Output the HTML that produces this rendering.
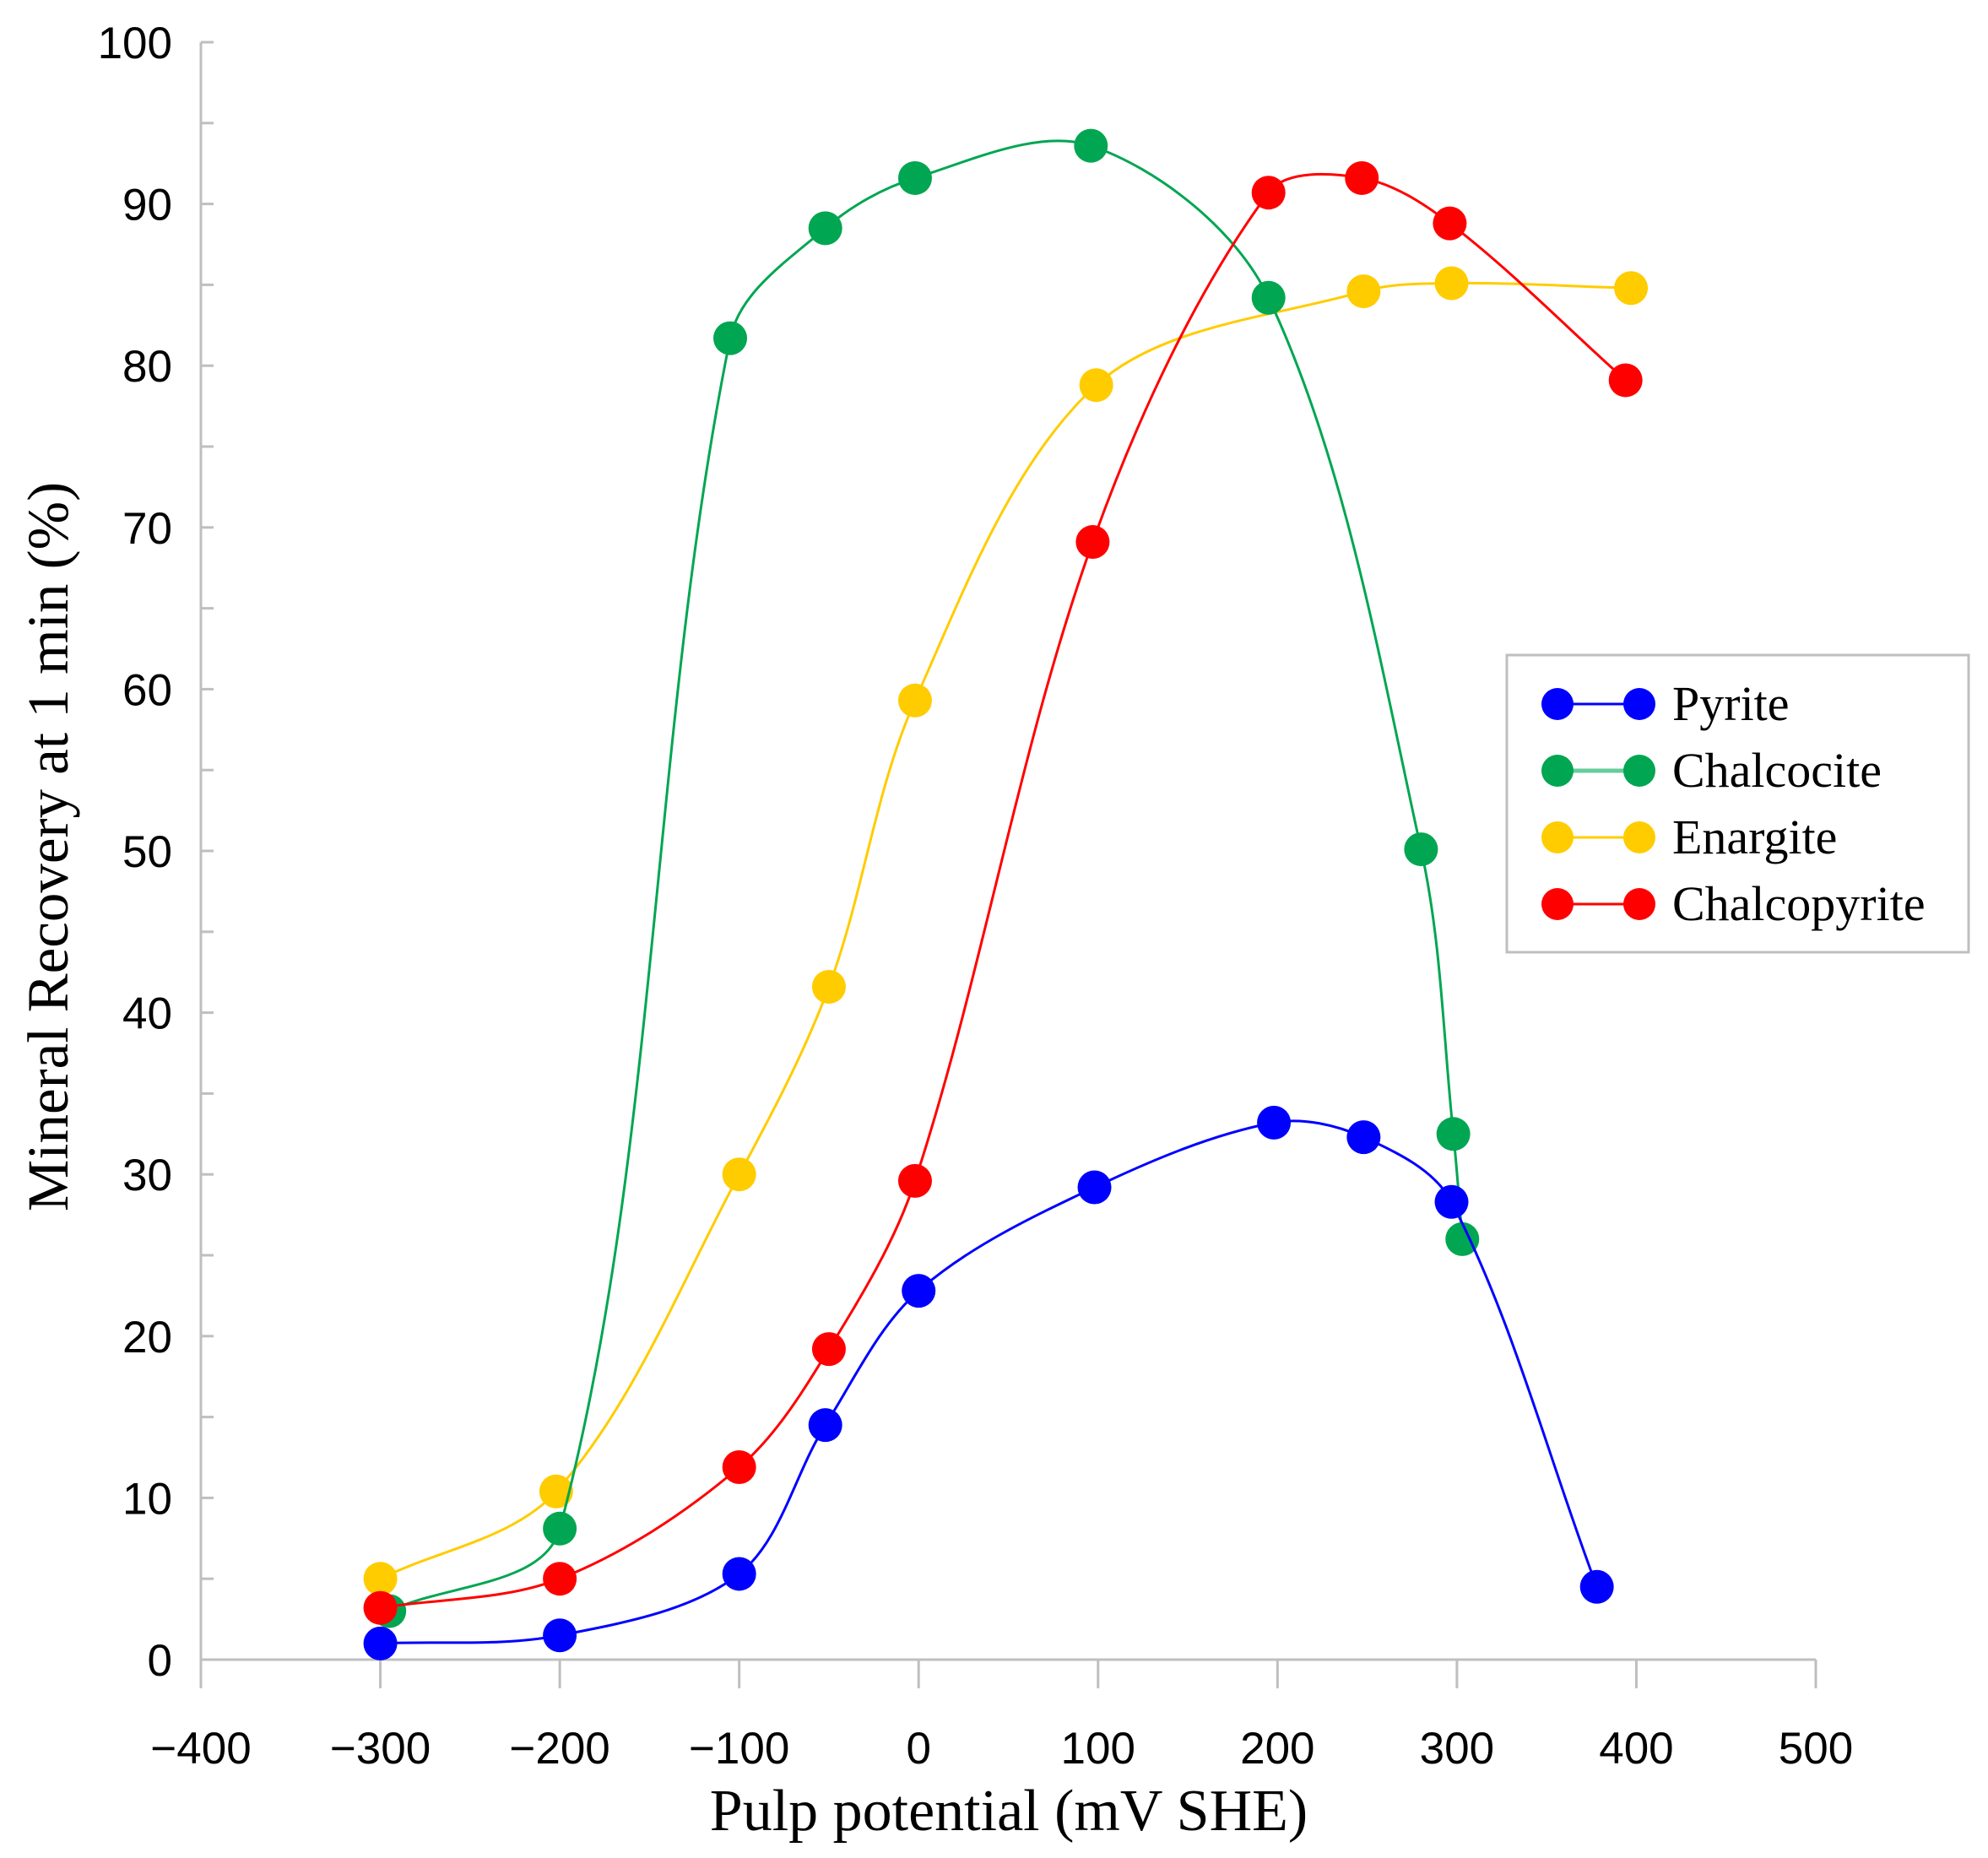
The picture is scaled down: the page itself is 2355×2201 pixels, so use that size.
<!DOCTYPE html>
<html><head><meta charset="utf-8"><style>
html,body{margin:0;padding:0;background:#fff;}
svg{display:block;}
</style></head><body>
<svg id="chart" width="2355" height="2201" viewBox="0 0 2355 2201" xmlns="http://www.w3.org/2000/svg">
<g id="axes"></g>
<g id="series"></g>
<text transform="translate(80,1003) rotate(-90)" text-anchor="middle" font-family="Liberation Serif, serif" font-size="69" fill="#000">Mineral Recovery at 1 min (%)</text>
<text x="1195" y="2168" text-anchor="middle" font-family="Liberation Serif, serif" font-size="70" fill="#000">Pulp potential (mV SHE)</text>
<g id="legend"></g>
</svg>
<script>
const xTicks = [-400,-300,-200,-100,0,100,200,300,400,500];
const yTicks = [0,10,20,30,40,50,60,70,80,90,100];
const seriesNames = ["Pyrite","Chalcocite","Enargite","Chalcopyrite"];
const seriesColors = ["#0000ff","#00a651","#ffcc00","#ff0000"];
const pyriteX = [-300,-200,-100,-52,0,98,198,248,297,378];
const pyriteY = [1,1.5,5.3,14.5,22.8,29.2,33.2,32.3,28.3,4.5];
const chalcociteX = [-295,-200,-105,-52,-2,96,195,280,298,303];
const chalcociteY = [3,8.1,81.7,88.5,91.6,93.6,84.2,50.1,32.5,26];
const enargiteX = [-300,-202,-100,-50,-2,99,248,297,397];
const enargiteY = [5,10.4,30,41.6,59.3,78.8,84.6,85.1,84.8];
const chalcopyriteX = [-300,-200,-100,-50,-2,97,195,247,296,394];
const chalcopyriteY = [3.2,5,11.9,19.2,29.6,69.1,90.7,91.6,88.8,79.1];

const NS="http://www.w3.org/2000/svg";
const X0=238, X1=2151, Y0=1966, Y1=50;
function sx(v){return X0+(v+400)/900*(X1-X0);}
function sy(v){return Y0-v/100*(Y0-Y1);}
function mk(tag,attrs,parent){const e=document.createElementNS(NS,tag);for(const k in attrs)e.setAttribute(k,attrs[k]);parent.appendChild(e);return e;}
const axes=document.getElementById('axes');
let e;
e=mk('line',{x1:X0,y1:Y0,x2:X1,y2:Y0,stroke:'#bfbfbf','stroke-width':3},axes);


e=mk('line',{x1:X0,y1:Y0+34,x2:X0,y2:Y1,stroke:'#bfbfbf','stroke-width':3},axes);


xTicks.forEach(t=>{
  const x=sx(t);
  let l=mk('line',{x1:x,y1:Y0,x2:x,y2:Y0+34,stroke:'#bfbfbf','stroke-width':3},axes);
  
  
  let tx=mk('text',{x:x,y:2089,'text-anchor':'middle','font-family':'Liberation Sans, sans-serif','font-size':53,fill:'#000'},axes);
  tx.textContent=(t<0?'\u2212'+(-t):String(t));
  
  
});
for(let v=0;v<=100;v+=5){
  let l=mk('line',{x1:X0,y1:sy(v),x2:X0+15,y2:sy(v),stroke:'#bfbfbf','stroke-width':3},axes);
  
  
}
yTicks.forEach(t=>{
  let tx=mk('text',{x:204,y:sy(t)+19,'text-anchor':'end','font-family':'Liberation Sans, sans-serif','font-size':53,fill:'#000'},axes);
  tx.textContent=String(t);
  
  
});
function dist(a,b){return Math.hypot(b[0]-a[0],b[1]-a[1]);}
function smoothPath(xs,ys){
  const p=xs.map((x,i)=>[sx(x),sy(ys[i])]);
  let d='M'+p[0][0]+','+p[0][1];
  const K=1/3;
  for(let i=0;i<p.length-1;i++){
    const p0=p[i-1]||p[i],p1=p[i],p2=p[i+1],p3=p[i+2]||p[i+1];
    const L=dist(p1,p2), La=dist(p0,p1), Lb=dist(p2,p3);
    const f1=K*L/(La+L), f2=K*L/(L+Lb);
    const c1=[p1[0]+(p2[0]-p0[0])*f1,p1[1]+(p2[1]-p0[1])*f1];
    const c2=[p2[0]-(p3[0]-p1[0])*f2,p2[1]-(p3[1]-p1[1])*f2];
    d+=' C'+c1[0]+','+c1[1]+' '+c2[0]+','+c2[1]+' '+p2[0]+','+p2[1];
  }
  return d;
}
const ser=document.getElementById('series');
const allX=[pyriteX,chalcociteX,enargiteX,chalcopyriteX];
const allY=[pyriteY,chalcociteY,enargiteY,chalcopyriteY];
const order=[2,1,3,0];
order.forEach(i=>{
  const g=mk('g',{},ser);
  
  
  const pth=mk('path',{d:smoothPath(allX[i],allY[i]),fill:'none',stroke:seriesColors[i],'stroke-width':3},g);
  
  
  allX[i].forEach((x,j)=>{
    const c=mk('circle',{cx:sx(x),cy:sy(allY[i][j]),r:20,fill:seriesColors[i]},g);
    
    
  });
});
const lg=document.getElementById('legend');
e=mk('rect',{x:1785,y:776,width:547,height:352,fill:'#fff',stroke:'#bfbfbf','stroke-width':3},lg);


seriesNames.forEach((n,i)=>{
  const y=834+i*79;
  const g=mk('g',{},lg);
  
  
  mk('line',{x1:1845,y1:y,x2:1942,y2:y,stroke:i==1?'#66cc99':seriesColors[i],'stroke-width':i==1?5:3},g);
  mk('circle',{cx:1845,cy:y,r:19,fill:seriesColors[i]},g);
  mk('circle',{cx:1942,cy:y,r:19,fill:seriesColors[i]},g);
  const t=mk('text',{x:1981,y:y+19,'font-family':'Liberation Serif, serif','font-size':58,fill:'#000'},g);
  t.textContent=n;
});
</script>
</body></html>
